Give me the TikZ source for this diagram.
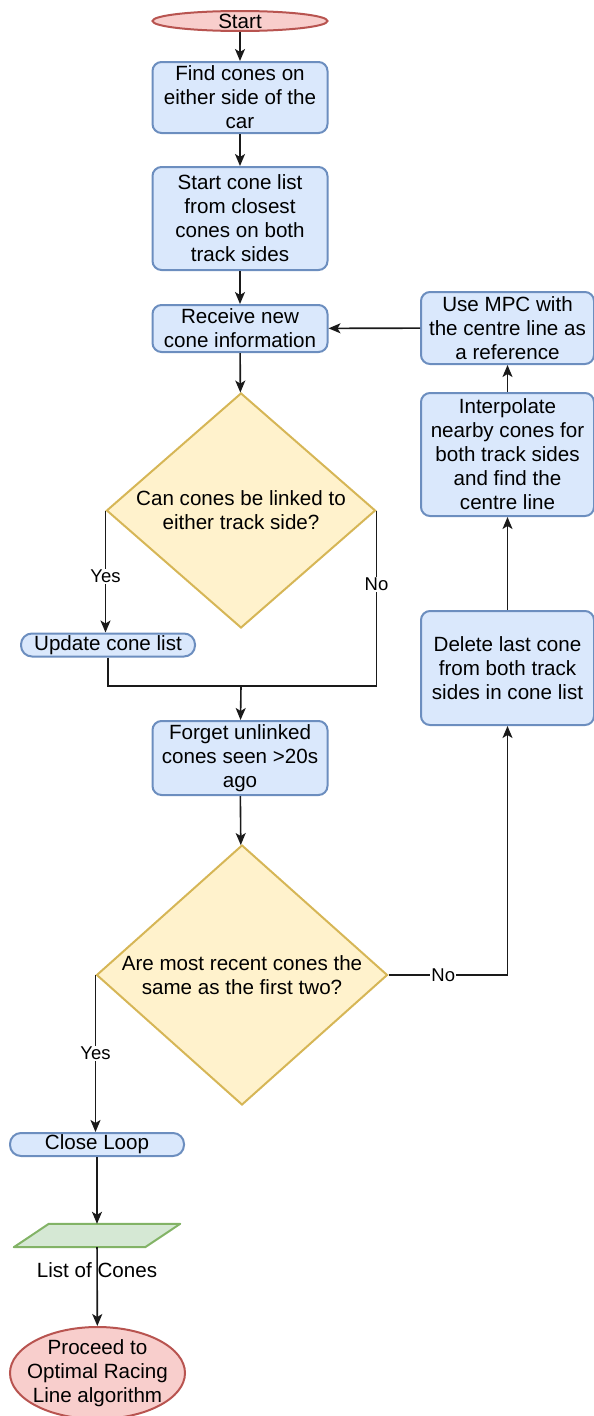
\documentclass[tikz,border=0pt]{standalone}
\usepackage{fontspec}
\setmainfont{Liberation Sans}
\usetikzlibrary{shapes.geometric,arrows.meta}
\definecolor{bluefill}{HTML}{DAE8FC}
\definecolor{blueline}{HTML}{6C8EBF}
\definecolor{yelfill}{HTML}{FFF2CC}
\definecolor{yelline}{HTML}{D6B656}
\definecolor{redfill}{HTML}{F8CECC}
\definecolor{redline}{HTML}{B85450}
\definecolor{grnfill}{HTML}{D5E8D4}
\definecolor{grnline}{HTML}{82B366}
\definecolor{edgecol}{HTML}{1A1A1A}
\begin{document}
\begin{tikzpicture}[x=1pt,y=-1pt,
  txt/.style={font=\fontsize{20.6}{24}\selectfont, align=center},
  proc/.style={txt, rectangle, rounded corners=9pt, draw=blueline, fill=bluefill, line width=2pt, inner sep=0pt},
  pill/.style={proc, rounded corners=11pt, minimum width=174pt, minimum height=23pt},
  decision/.style={diamond, draw=yelline, fill=yelfill, line width=2pt, inner sep=0pt},
  term/.style={ellipse, draw=redline, fill=redfill, line width=2pt, inner sep=0pt},
  inlab/.style={txt, inner sep=0pt},
  iobox/.style={rectangle, minimum width=166pt, minimum height=23pt, inner sep=0pt},
  iostyle/.style={draw=grnline, fill=grnfill, line width=2pt, line join=round},
  arr/.style={draw=edgecol, line width=1.6pt, -{Stealth[length=12pt,width=10pt,inset=3pt]}},
  ln/.style={draw=edgecol, line width=1.6pt},
  elab/.style={font=\fontsize{18.5}{22}\selectfont, fill=white, inner sep=1pt}
]
\useasboundingbox (0,0) rectangle (594,1416);

\node[term, minimum width=175pt, minimum height=20pt, label={[inlab]center:Start}] (start) at (240,21) {};
\node[proc, minimum width=175pt, minimum height=71pt] (find) at (240,97.5) {Find cones on\\either side of the\\car};
\node[proc, minimum width=175pt, minimum height=103pt] (startlist) at (240,218.5) {Start cone list\\from closest\\cones on both\\track sides};
\node[proc, minimum width=175pt, minimum height=47pt] (recv) at (240,328.5) {Receive new\\cone information};
\node[decision, minimum width=269pt, minimum height=235pt, label={[inlab]center:{Can cones be linked to\\either track side?}}] (d1) at (241,510.5) {};
\node[pill] (upd) at (108,645) {Update cone list};
\coordinate (merge) at (241,686);
\node[proc, minimum width=175pt, minimum height=74pt] (forget) at (240,758) {Forget unlinked\\cones seen >20s\\ago};
\node[decision, minimum width=291pt, minimum height=260pt, label={[inlab]center:{Are most recent cones the\\same as the first two?}}] (d2) at (242,975) {};
\node[proc, minimum width=173pt, minimum height=114pt] (delete) at (507.5,668) {Delete last cone\\from both track\\sides in cone list};
\node[proc, minimum width=173pt, minimum height=123pt] (interp) at (507.5,454.5) {Interpolate\\nearby cones for\\both track sides\\and find the\\centre line};
\node[proc, minimum width=173pt, minimum height=72pt] (mpc) at (507.5,328) {Use MPC with\\the centre line as\\a reference};
\node[pill] (close) at (97,1144.5) {Close Loop};
\node[iobox] (io) at (97,1235.5) {};
\draw[iostyle] ([xshift=35pt]io.north west) -- (io.north east) -- ([xshift=-35pt]io.south east) -- (io.south west) -- cycle;
\node[txt] (iolab) at (97,1270) {List of Cones};
\node[term, minimum width=175pt, minimum height=92pt, label={[inlab]center:{Proceed to\\Optimal Racing\\Line algorithm}}] (proceed) at (97.5,1373) {};

\draw[arr] (start) -- (find);
\draw[arr] (find) -- (startlist);
\draw[arr] (startlist) -- (recv);
\draw[arr] (recv) -- (d1);
\draw[arr] (d1.west) -- node[elab, pos=0.54] {Yes} (d1.west |- upd.north);
\draw[ln] (upd.south) |- (merge);
\draw[ln] (d1.east) |- node[elab, pos=0.21] {No} (merge);
\draw[arr] (merge) -- (forget);
\draw[arr] (forget) -- (d2);
\draw[arr] (d2.east) -| node[elab, pos=0.23] {No} (delete.south);
\draw[arr] (delete) -- (interp);
\draw[arr] (interp) -- (mpc);
\draw[arr] (mpc) -- (recv);
\draw[arr] (d2.west) -- node[elab, pos=0.5] {Yes} (d2.west |- close.north);
\draw[arr] (close) -- (io);
\draw[arr] (io) -- (proceed);
\end{tikzpicture}
\end{document}
